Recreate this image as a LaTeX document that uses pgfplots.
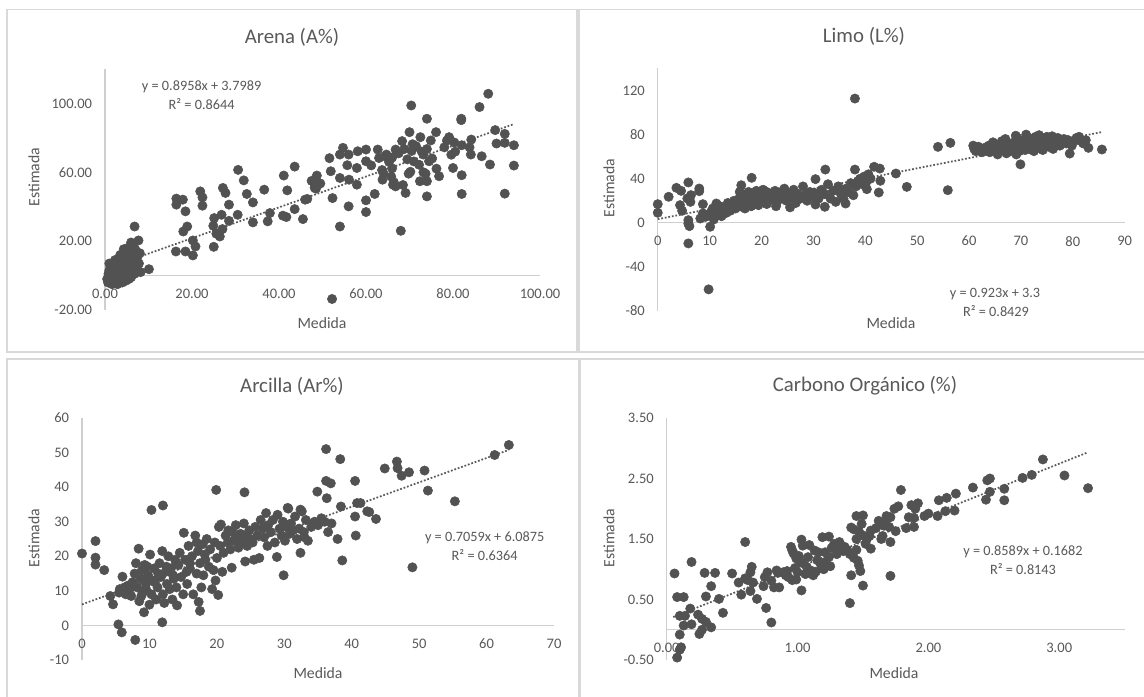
\documentclass[border=0pt]{standalone}
\usepackage{fontspec}
\setmainfont{Carlito}
\usepackage{pgfplots}
\pgfplotsset{compat=1.18}
\definecolor{txt}{HTML}{595959}
\definecolor{mk}{HTML}{525252}
\definecolor{axg}{HTML}{CFCFCF}
\definecolor{brd}{HTML}{D9D9D9}
\pgfplotsset{
  panel/.style={scale only axis, anchor=south west,
    axis x line=middle, axis y line=left,
    axis line style={draw=axg, line width=0.8pt, -},
    major tick length=0pt, tick style={draw=none},
    hide obscured x ticks=false, hide obscured y ticks=false,
    clip=false, enlargelimits=false,
    ticklabel style={font=\fontsize{10.9}{12}\selectfont, text=txt},
    xticklabel style={anchor=north, inner sep=0pt, yshift=-9.8pt},
    yticklabel style={anchor=east, inner sep=0pt, xshift=-9.5pt}},
  pts/.style={only marks, mark=*, mark size=3.5pt, mark options={fill=mk, draw=mk}},
  trend/.style={no marks, draw=txt, line width=1.3pt, dash pattern=on 1.3pt off 1.4pt}
}
\newcommand{\tfont}{\fontsize{15.6}{18}\selectfont}
\newcommand{\lfont}{\fontsize{11.8}{14}\selectfont}
\newcommand{\efont}{\fontsize{10.7}{13}\selectfont}
\begin{document}
\begin{tikzpicture}
\useasboundingbox (0,0) rectangle (858pt,522pt);
\fill[white] (0,0) rectangle (858pt,522pt);
% panel borders
\draw[brd, line width=1.1pt] (5.25pt,258pt) rectangle (432.75pt,514.9pt);
\draw[brd, line width=1.1pt] (434.25pt,258pt) rectangle (866pt,514.9pt);
\draw[brd, line width=1.1pt] (5.25pt,-5pt) rectangle (434.25pt,252.75pt);
\draw[brd, line width=1.1pt] (435pt,-5pt) rectangle (866pt,252.75pt);

% ---------- Panel 1: Arena ----------
\begin{axis}[panel, at={(78.75pt,289.5pt)}, width=326.25pt, height=180.75pt,
  xmin=0, xmax=100, ymin=-20, ymax=120,
  xtick={0,20,40,60,80,100}, xticklabels={0.00,20.00,40.00,60.00,80.00,100.00},
  ytick={-20,20,60,100}, yticklabels={-20.00,20.00,60.00,100.00}]
\addplot[trend] coordinates {(0.5,4.25) (94,88.0)};
\addplot[pts] coordinates {
(88.1,105.6) (70.4,98.8) (86.1,97.9) (74.0,91.1) (81.9,91.1) (81.9,90.3) (89.7,84.5) (70.0,83.3)
(76.1,83.3) (91.9,82.3) (72.5,80.4) (79.1,80.4) (84.2,79.0) (68.3,78.1) (78.6,78.4) (80.3,77.3)
(74.9,78.5) (90.0,76.7) (91.9,77.1) (94.0,75.7) (54.7,74.2) (82.0,75.7) (70.7,76.3) (70.5,72.4)
(58.1,72.2) (60.0,73.2) (62.7,73.2) (54.0,70.3) (56.0,70.3) (64.3,69.3) (66.8,73.2) (64.7,70.3)
(84.1,70.3) (86.6,69.3) (51.6,68.2) (60.0,66.4) (73.2,70.3) (74.5,66.4) (72.2,64.4) (88.5,64.5)
(94.0,63.9) (55.7,64.1) (80.0,62.5) (76.2,62.1) (63.7,61.3) (66.0,62.3) (70.2,60.3) (69.8,59.2)
(73.2,60.0) (73.7,59.2) (57.9,62.5) (51.9,60.6) (30.6,61.4) (43.6,63.3) (41.1,58.1) (48.7,58.1)
(82.0,58.3) (76.8,57.7) (54.0,56.7) (56.1,55.7) (63.8,55.7) (66.4,54.2) (72.4,54.8) (74.0,54.8)
(31.9,55.3) (48.0,54.2) (49.0,52.8) (48.2,51.0) (57.9,52.8) (68.5,52.6) (27.1,50.9) (21.9,48.9)
(27.7,48.0) (36.6,49.9) (41.9,49.5) (66.2,52.8) (66.8,51.8) (32.6,47.4) (62.0,47.4) (69.1,48.0)
(82.0,47.4) (91.9,47.6) (74.0,46.0) (16.4,44.7) (17.9,44.1) (22.4,45.4) (52.3,45.0) (46.0,44.1)
(60.0,43.7) (34.0,42.5) (16.4,41.2) (28.5,41.2) (22.4,40.6) (56.0,40.2) (43.6,38.6) (18.5,37.3)
(60.0,36.9) (37.9,36.3) (30.5,35.3) (26.8,35.3) (40.9,34.8) (41.7,34.0) (25.1,33.4) (45.5,32.8)
(37.4,31.5) (34.0,30.9) (28.5,31.8) (24.9,28.9) (18.9,28.5) (27.0,27.0) (18.0,25.6) (26.4,22.7)
(25.6,24.3) (54.0,28.5) (68.0,26.0) (20.2,20.4) (7.7,20.4) (20.8,16.9) (25.0,16.7) (16.3,14.0)
(18.5,14.0) (20.2,11.7) (6.8,28.5) (10.1,3.7) (52.2,-13.6) (4.3,15.3) (6.0,19.2)
(46.5,44.5) (47.5,55.0) (49.5,53.5) (48.5,50.5)
(65.3,66.0) (66.0,68.5) (67.5,71.0) (68.8,73.5) (71.5,75.2) (72.8,72.0) (74.0,73.5) (75.2,68.0)
(63.0,68.3) (61.2,64.0) (78.0,74.5) (80.5,72.0) (79.6,70.2) (83.8,74.5) (71.0,66.3) (69.5,67.5)
(64.0,59.5) (65.8,57.5)
(0.5,-2) (0.8,1) (1.0,3) (1.2,-1) (1.5,5) (1.5,0) (1.8,-3) (2.0,2) (2.0,6) (2.2,-1) (2.5,4) (2.5,0)
(2.7,7) (2.8,-4) (3.0,1) (3.0,5) (3.2,9) (3.3,-2) (3.5,3) (3.6,7) (3.8,0) (4.0,11) (4.0,4) (4.2,-1)
(4.4,6) (4.5,9) (4.6,2) (4.8,13) (4.8,-3) (5.0,5) (5.0,8) (5.2,1) (5.4,11) (5.5,4) (5.6,14) (5.8,7)
(6.0,-1) (6.0,10) (6.2,3) (6.5,12) (6.5,6) (6.8,1) (7.0,9) (7.0,15) (7.3,4) (7.5,11) (7.8,7) (8.0,13)
(8.2,2) (1.0,7) (1.3,4) (2.3,9) (3.5,12) (0.7,-4) (1.6,-5) (2.9,-5) (4.0,-4) (5.5,-2) (6.5,17) (5.2,16)
};
\end{axis}

% ---------- Panel 2: Limo ----------
\begin{axis}[panel, at={(493.3pt,288.75pt)}, width=350.25pt, height=181.9pt,
  xmin=0, xmax=90, ymin=-80, ymax=140,
  xtick={0,10,...,90}, xticklabels={0,10,20,30,40,50,60,70,80,90},
  ytick={-80,-40,0,40,80,120}, yticklabels={-80,-40,0,40,80,120}]
\addplot[trend] coordinates {(0,3.3) (85.6,82.31)};
\addplot[pts] coordinates {
(38.0,112.7) (9.8,-60.4) (5.9,-18.7) (10.1,-3.6) (0,16.9) (0,9.1) (2.1,23.6) (3.6,31.7) (4.5,29.0)
(5.9,36.6) (8.0,31.1) (8.0,28.7) (4.3,16.0) (4.7,10.9) (5.7,22.1) (6.3,19.0) (6.4,25.1) (5.9,2.4)
(5.9,-0.6) (6.1,-3.0) (8.2,3.9) (8.7,8.5) (9.2,5.4) (8.7,16.9) (10.1,8.5) (10.6,13.0) (11.3,17.5)
(18.1,40.8) (16.1,34.1) (30.4,39.6) (32.3,48.3) (38.0,48.3) (41.7,50.8) (42.8,49.2) (42.9,38.1)
(42.6,27.5) (40.3,30.5) (45.9,44.7) (48.0,32.6) (55.9,29.6) (30.4,16.6) (32.2,14.5) (36.2,17.5)
(11,12) (11.5,8) (12,15) (12.5,10) (13,14) (13.5,18) (14,11) (14.3,16) (14.7,20) (15,13) (15.3,17)
(15.7,22) (16,15) (16.2,26) (16.5,19) (16.8,13) (17,23) (17.2,17) (17.5,28) (17.7,21) (18,15)
(18.3,25) (18.6,19) (19,22) (19.4,16) (19.8,26) (20,20) (20.3,30) (20.6,23) (21,17) (21.4,27)
(21.8,21) (22.2,24) (22.6,29) (23,19) (23.5,25) (24,22) (24.4,31) (24.8,20) (25.2,26) (25.5,14)
(25.8,23) (26.2,30) (26.6,18) (27,26) (27.5,22) (28,33) (28.4,25) (28.8,20) (29.3,28) (29.8,24)
(30.3,27) (31,22) (31.6,30) (32.2,26) (32.8,35) (33.3,22) (33.8,29) (34.3,19) (34.8,33) (35.3,26)
(35.8,22) (36.3,31) (36.8,28) (37.2,36) (37.7,25) (38.2,33) (38.6,38) (39,40) (39.4,35) (39.8,42)
(40.2,37) (40.6,44) (41,40) (21,28) (15.8,28) (19,29) (22.8,15) (26,27) (13.2,9) (12.3,6) (10.8,3)
(23.8,28)
(60.8,70) (61.0,67) (61.3,65) (61.8,69) (62.2,66) (62.5,64) (63.0,68) (63.3,66) (63.8,70) (64.0,64)
(64.3,67) (64.6,73) (64.9,69) (65.2,65) (65.5,62) (65.8,71) (66.0,68) (66.3,74) (66.6,66) (66.9,70)
(67.2,63) (67.5,68) (67.8,72) (68.0,65) (68.3,70) (68.6,67) (68.9,74) (69.1,62) (69.3,77) (69.5,69)
(69.7,65) (70.0,72) (70.3,68) (70.6,75) (70.8,66) (71.1,70) (71.4,73) (71.7,67) (72.0,76) (72.2,69)
(72.5,65) (72.8,78) (73.0,71) (73.3,68) (73.6,74) (73.9,70) (74.2,66) (74.5,76) (74.8,72) (75.0,78)
(75.3,69) (75.6,74) (75.9,71) (76.2,67) (76.5,75) (76.8,72) (77.1,77) (77.5,70) (77.9,74) (78.3,76)
(78.7,72) (79.1,75) (79.4,62.8) (79.8,70) (80.2,74) (80.7,77) (81.2,78) (81.6,74) (82.0,72) (82.5,75)
(83.0,68) (85.6,66.5) (69.9,53) (54.0,68.9) (56.4,72.5) (67.0,76) (69.0,79) (71.0,80) (73.5,79.5)
(76.0,78.5)
};
\end{axis}

% ---------- Panel 3: Arcilla ----------
\begin{axis}[panel, at={(61.5pt,27pt)}, width=354pt, height=181.5pt,
  xmin=0, xmax=70, ymin=-10, ymax=60,
  xtick={0,10,...,70}, xticklabels={0,10,20,30,40,50,60,70},
  ytick={-10,0,...,60}, yticklabels={-10,0,10,20,30,40,50,60}]
\addplot[trend] coordinates {(0,6.09) (63.3,50.77)};
\addplot[pts] coordinates {
(0.0,20.8) (2.0,24.4) (2.0,19.6) (2.0,17.6) (3.3,16.0) (4.2,8.5) (4.6,6.1) (5.4,0.3) (5.9,-2.0)
(7.9,-4.2) (9.2,3.8) (11.9,0.9) (17.5,4.2) (17.3,6.8) (6.0,14.1) (5.6,10.5) (6.3,11.0) (10.3,33.4)
(12.0,34.7) (19.9,39.2) (24.1,38.5) (29.9,14.5) (49.0,16.8) (38.6,18.8) (63.3,52.2) (61.2,49.3)
(36.2,51.0) (38.3,48.1) (46.7,47.4) (44.9,45.4) (46.8,45.5) (50.8,44.8) (48.5,44.3) (47.4,43.3)
(36.2,41.8) (36.9,41.1) (40.5,41.8) (34.9,38.7) (51.3,39.0) (36.3,36.8) (55.3,35.9) (40.8,35.4)
(41.3,35.4) (38.4,34.4) (30.6,33.8) (32.4,33.5) (42.3,33.0) (42.6,32.8) (40.5,31.5) (43.6,30.8)
(40.6,26.0) (37.9,25.0)
(6.5,9.0) (7.0,10.2) (7.3,8.5) (7.5,12.5) (7.8,15.0) (8.0,18.0) (8.2,11.0) (8.4,22.2) (8.5,7.0)
(8.7,13.5) (8.9,16.0) (9.0,9.5) (9.3,17.5) (9.5,12.0) (9.8,14.5) (10.0,6.0) (10.1,20.5) (10.3,9.0)
(10.5,13.0) (10.7,16.5) (11.0,7.5) (11.2,11.0) (11.5,18.0) (11.7,14.0) (11.9,21.5) (12.0,9.0)
(12.2,6.5) (12.4,15.5) (12.6,12.0) (12.8,20.0) (13.0,10.5) (13.2,16.5) (13.4,7.5) (13.6,13.5)
(13.8,19.0) (14.0,11.0) (14.1,5.8) (14.3,17.5) (14.5,21.0) (14.7,14.0) (15.0,9.0) (15.1,26.8)
(15.3,19.0) (15.6,12.0) (15.8,23.0) (16.0,16.5) (16.3,20.0) (16.5,9.0) (16.8,26.0) (17.0,15.0)
(17.2,21.5) (17.5,18.0) (17.7,11.0) (17.9,23.5) (18.0,14.5) (18.2,20.5) (18.5,25.0) (18.8,17.0)
(19.0,22.0) (19.3,10.5) (19.5,16.0) (19.7,24.0) (19.8,13.0) (20.0,19.5) (20.2,8.8) (20.3,28.5)
(20.5,23.0) (20.6,29.2) (20.8,15.5) (21.0,21.0) (21.3,26.0) (21.6,24.0) (22.0,22.0) (22.2,16.7)
(22.3,27.0) (22.5,24.5) (22.8,29.0) (23.0,25.5) (23.2,22.5) (23.5,26.5) (23.8,24.0) (24.0,29.5)
(24.2,18.5) (24.3,26.0) (24.5,23.0) (24.8,27.5) (25.0,25.0) (25.3,24.0) (25.7,28.5) (26.0,26.0)
(26.3,19.5) (26.5,30.5) (26.8,28.0) (27.0,25.5) (27.3,32.5) (27.6,29.0) (28.0,27.0) (28.3,30.5)
(28.6,24.0) (28.9,19.8) (29.0,32.0) (29.3,28.0) (29.6,26.0) (29.8,30.0) (30.1,24.5) (30.3,28.5)
(30.5,34.0) (30.8,26.5) (31.0,29.5) (31.3,27.5) (31.6,31.5) (31.9,25.0) (32.2,28.0) (32.4,21.0)
(32.6,33.0) (32.9,27.0) (33.2,30.5) (33.5,24.5) (34.0,28.5) (34.5,30.0) (35.0,29.0) (35.5,31.0)
(36.0,30.0) (37.0,29.5) (36.5,27.0) (33.0,25.5) (27.5,23.0) (25.5,19.0) (21.7,27.5) (18.3,19.0)
(12.5,17.0) (9.7,17.0) (11.3,15.0) (13.5,14.5) (14.0,18.0) (10.8,12.5) (8.8,8.5) (6.8,11.5)
(5.5,9.5) (9.5,10.5) (15.5,15.5) (16.0,18.0) (17.0,24.0)
};
\end{axis}

% ---------- Panel 4: Carbono ----------
\begin{axis}[panel, at={(500pt,27pt)}, width=343.5pt, height=181.5pt,
  xmin=0, xmax=3.5, ymin=-0.5, ymax=3.5,
  xtick={0,1,2,3}, xticklabels={0.00,1.00,2.00,3.00},
  ytick={-0.5,0.5,1.5,2.5,3.5}, yticklabels={-0.50,0.50,1.50,2.50,3.50}]
\addplot[trend] coordinates {(0.05,0.211) (3.22,2.934)};
\addplot[pts] coordinates {
(2.875,2.815) (3.04,2.55) (3.22,2.34) (2.79,2.56) (2.72,2.51) (2.58,2.33) (2.58,2.14) (2.47,2.50)
(2.45,2.47) (2.47,2.28) (2.44,2.15) (2.34,2.35) (2.21,2.25) (2.14,2.18) (2.08,2.14) (2.20,1.97)
(2.13,1.96) (2.07,1.88) (2.00,1.92) (1.97,1.88) (1.92,2.09) (1.87,2.06) (1.90,2.00) (1.79,2.31)
(1.77,2.04) (1.74,2.00) (1.85,1.86) (1.89,1.85) (1.89,1.70) (1.83,1.68) (1.71,1.86) (1.68,1.88)
(1.67,1.77) (1.66,1.72) (1.70,1.70) (1.75,1.63) (1.71,1.45) (1.71,0.89) (1.65,1.55) (1.64,1.50)
(1.50,1.89) (1.45,1.88) (1.41,1.69) (1.43,1.66) (1.49,1.75) (1.56,1.64) (1.53,1.50) (1.50,1.56)
(1.45,1.50) (1.56,1.34) (1.45,1.32) (1.36,1.37) (1.35,1.30) (1.40,1.25) (1.43,1.19) (1.46,1.14)
(1.47,1.06) (1.48,0.97) (1.50,0.73) (1.41,0.90) (1.40,0.44) (1.24,1.54) (1.19,1.53) (1.32,1.45)
(1.28,1.42) (1.03,1.49) (1.04,1.39) (0.95,1.37) (0.96,1.31) (0.97,1.26) (0.99,1.18) (1.02,1.12)
(1.13,1.31) (1.16,1.28) (1.21,1.28) (1.24,1.20) (1.21,1.12) (1.18,1.07) (1.14,0.96) (1.10,0.98)
(1.07,1.04) (1.04,1.10) (1.03,0.65) (0.84,0.98) (0.85,0.94) (0.89,0.95) (0.93,0.87) (0.96,0.82)
(0.99,0.83) (0.77,0.95) (0.75,0.87) (0.80,0.81) (0.82,0.70) (0.86,0.70) (0.60,1.45) (0.64,0.95)
(0.65,1.04) (0.62,0.82) (0.66,0.78) (0.64,0.64) (0.60,0.85) (0.55,0.78) (0.50,0.93) (0.57,0.58)
(0.69,0.51) (0.74,0.72) (0.76,0.36) (0.80,0.12) (0.37,0.94) (0.29,0.94) (0.34,0.72) (0.30,0.55)
(0.40,0.51) (0.43,0.28) (0.19,1.12) (0.06,0.93) (0.08,0.54) (0.13,0.54) (0.18,0.35) (0.10,0.23)
(0.14,0.23) (0.24,0.25) (0.27,0.18) (0.30,0.13) (0.34,0.04) (0.19,0.09) (0.13,0.07) (0.10,-0.08)
(0.25,-0.07) (0.27,0.00) (0.11,-0.29) (0.10,-0.33) (0.08,-0.46)
(1.00,0.95) (1.06,0.92) (1.12,0.90) (1.08,1.20) (1.15,1.15) (1.20,1.00) (1.25,1.05) (1.30,1.25)
(1.33,1.35) (1.38,1.32) (1.26,1.35) (0.92,0.97) (0.98,1.02) (1.01,1.22) (0.91,0.90) (1.09,1.40)
(1.55,1.55) (1.60,1.68) (1.62,1.80) (1.47,1.62) (1.52,1.42)
};
\end{axis}

% titles
\node[font=\tfont, text=txt] at (219pt,494.25pt) {Arena (A\%)};
\node[font=\tfont, text=txt] at (648pt,495pt) {Limo (L\%)};
\node[font=\tfont, text=txt] at (219pt,232.5pt) {Arcilla (Ar\%)};
\node[font=\tfont, text=txt] at (648.75pt,232.5pt) {Carbono Orgánico (\%)};
% axis labels
\node[font=\lfont, text=txt] at (241.5pt,279.75pt) {Medida};
\node[font=\lfont, text=txt] at (668.25pt,279.75pt) {Medida};
\node[font=\lfont, text=txt] at (238.5pt,17.25pt) {Medida};
\node[font=\lfont, text=txt] at (670.5pt,17.25pt) {Medida};
\node[font=\lfont, text=txt, rotate=90] at (25.5pt,389.25pt) {Estimada};
\node[font=\lfont, text=txt, rotate=90] at (456.75pt,381pt) {Estimada};
\node[font=\lfont, text=txt, rotate=90] at (25.5pt,118.5pt) {Estimada};
\node[font=\lfont, text=txt, rotate=90] at (456.75pt,118.5pt) {Estimada};
% equations
\node[font=\efont, text=txt] at (151.2pt,456.75pt) {y = 0.8958x + 3.7989};
\node[font=\efont, text=txt] at (151.2pt,444pt) {R² = 0.8644};
\node[font=\efont, text=txt] at (746.25pt,301.5pt) {y = 0.923x + 3.3};
\node[font=\efont, text=txt] at (747pt,288.75pt) {R² = 0.8429};
\node[font=\efont, text=txt] at (363.5pt,118.5pt) {y = 0.7059x + 6.0875};
\node[font=\efont, text=txt] at (363.5pt,105.75pt) {R² = 0.6364};
\node[font=\efont, text=txt] at (767.25pt,108pt) {y = 0.8589x + 0.1682};
\node[font=\efont, text=txt] at (767.25pt,95.25pt) {R² = 0.8143};
\end{tikzpicture}
\end{document}
